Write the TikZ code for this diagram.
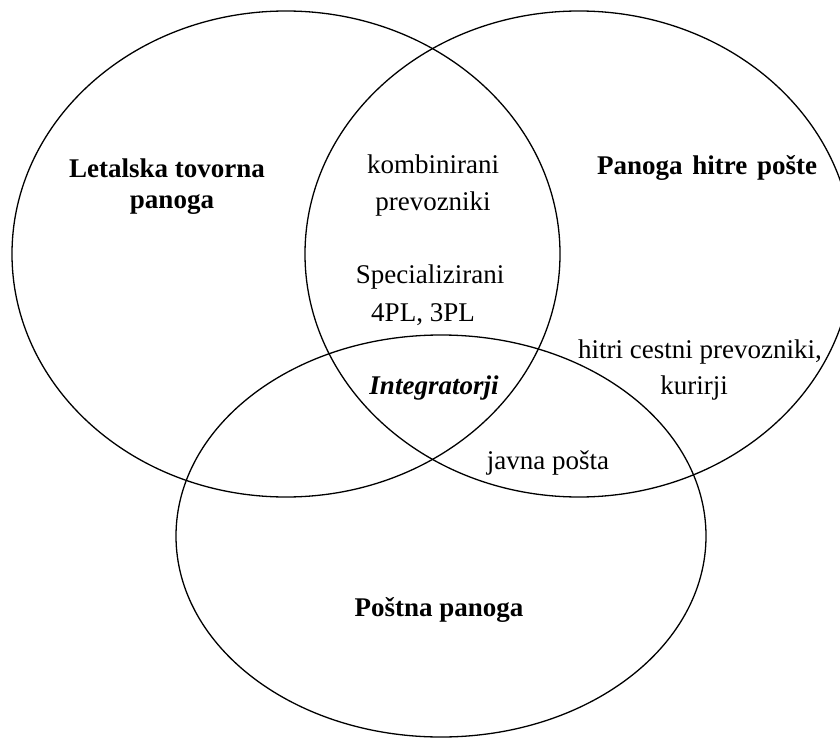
\documentclass[tikz,border=0pt]{standalone}
\usepackage{fontspec}
\setmainfont{Liberation Serif}
\begin{document}
\begin{tikzpicture}[x=1pt,y=-1pt,
  ring/.style={draw=black,line width=1.3pt},
  lbl/.style={font=\fontsize{27}{37}\selectfont,align=center,inner sep=0pt,anchor=center},
  hdr/.style={lbl,font=\fontsize{27}{37}\selectfont\bfseries}]
\useasboundingbox (0,0) rectangle (840,738);
\clip (0,0) rectangle (840,738);
\draw[ring] (286,254) ellipse [x radius=274, y radius=243];
\draw[ring] (579,254) ellipse [x radius=274, y radius=243];
\draw[ring] (441,536) ellipse [x radius=265, y radius=201];
\node[hdr] (air1) at (167,168) {Letalska tovorna};
\node[hdr] (air2) at (172,205) {panoga};
\node[hdr] (exp) at (707,168) {Panoga\hspace{3pt} hitre\hspace{3pt} pošte};
\node[hdr] (post) at (439,610) {Poštna panoga};
\node[lbl] (komb) at (433,186) {kombinirani\\prevozniki};
\node[lbl] (spec1) at (430,277) {Specializirani};
\node[lbl] (spec2) at (423,315) {4PL, 3PL};
\node[lbl] (road1) at (700,352) {hitri cestni prevozniki,};
\node[lbl] (road2) at (694,388) {kurirji};
\node[lbl,font=\fontsize{27}{37}\selectfont\bfseries\itshape] (integ) at (434,388) {Integratorji};
\node[lbl] (javna) at (548,463) {javna pošta};
\end{tikzpicture}
\end{document}
